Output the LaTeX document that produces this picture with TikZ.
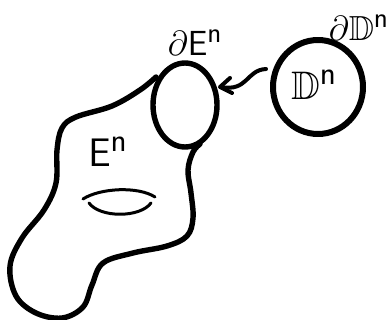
\documentclass[tikz,border=0pt]{standalone}
\usepackage{amssymb}
\tikzset{
  outline/.style={line width=5.4pt, line cap=round, line join=round},
  thin stroke/.style={line width=3pt, line cap=round, line join=round},
  handtext/.style={inner sep=0pt, font=\Huge},
}
\begin{document}
\begin{tikzpicture}[x=1pt,y=-1pt]
\useasboundingbox (0,0) rectangle (391,320);
% boundary sphere dE
\draw[outline] (185,105) ellipse [x radius=32, y radius=42];
% disk D
\draw[outline, line width=6pt] (318,87) ellipse [x radius=45, y radius=47];
% manifold E outline
\draw[outline] plot[smooth, tension=0.6] coordinates {
  (156,77) (140,90) (112,106) (76,117) (62,128) (57,150) (56,183)
  (44,210) (22,238) (10,266) (16,296) (36,313) (62,318) (83,307)
  (92,285) (103,263) (133,253) (167,246) (187,236) (193,218)
  (191,193) (188,170) (193,152) (200,144)};
% hole
\draw[thin stroke] (83,199) .. controls (100,188) and (138,186) .. (155,197);
\draw[thin stroke] (89,203) .. controls (100,218) and (140,218) .. (151,203);
% arrow
\draw[outline, line width=4pt] (266,69) .. controls (246,70) and (248,92) .. (221,87);
\draw[outline, line width=4pt] (230,78) -- (220,87) -- (232,93);
% labels
\node[handtext, scale=1.6] (lE) at (108,152) {$\mathsf{E}^{\mathsf{n}}$};
\node[handtext, scale=1.4] (ldE) at (195,43) {$\partial\mathsf{E}^{\mathsf{n}}$};
\node[handtext, scale=1.6] (lD) at (314,85) {$\mathbb{D}^{\mathsf{n}}$};
\node[handtext, scale=1.4, anchor=east] (ldD) at (389,28) {$\partial\mathbb{D}^{\mathsf{n}}$};
\end{tikzpicture}
\end{document}
